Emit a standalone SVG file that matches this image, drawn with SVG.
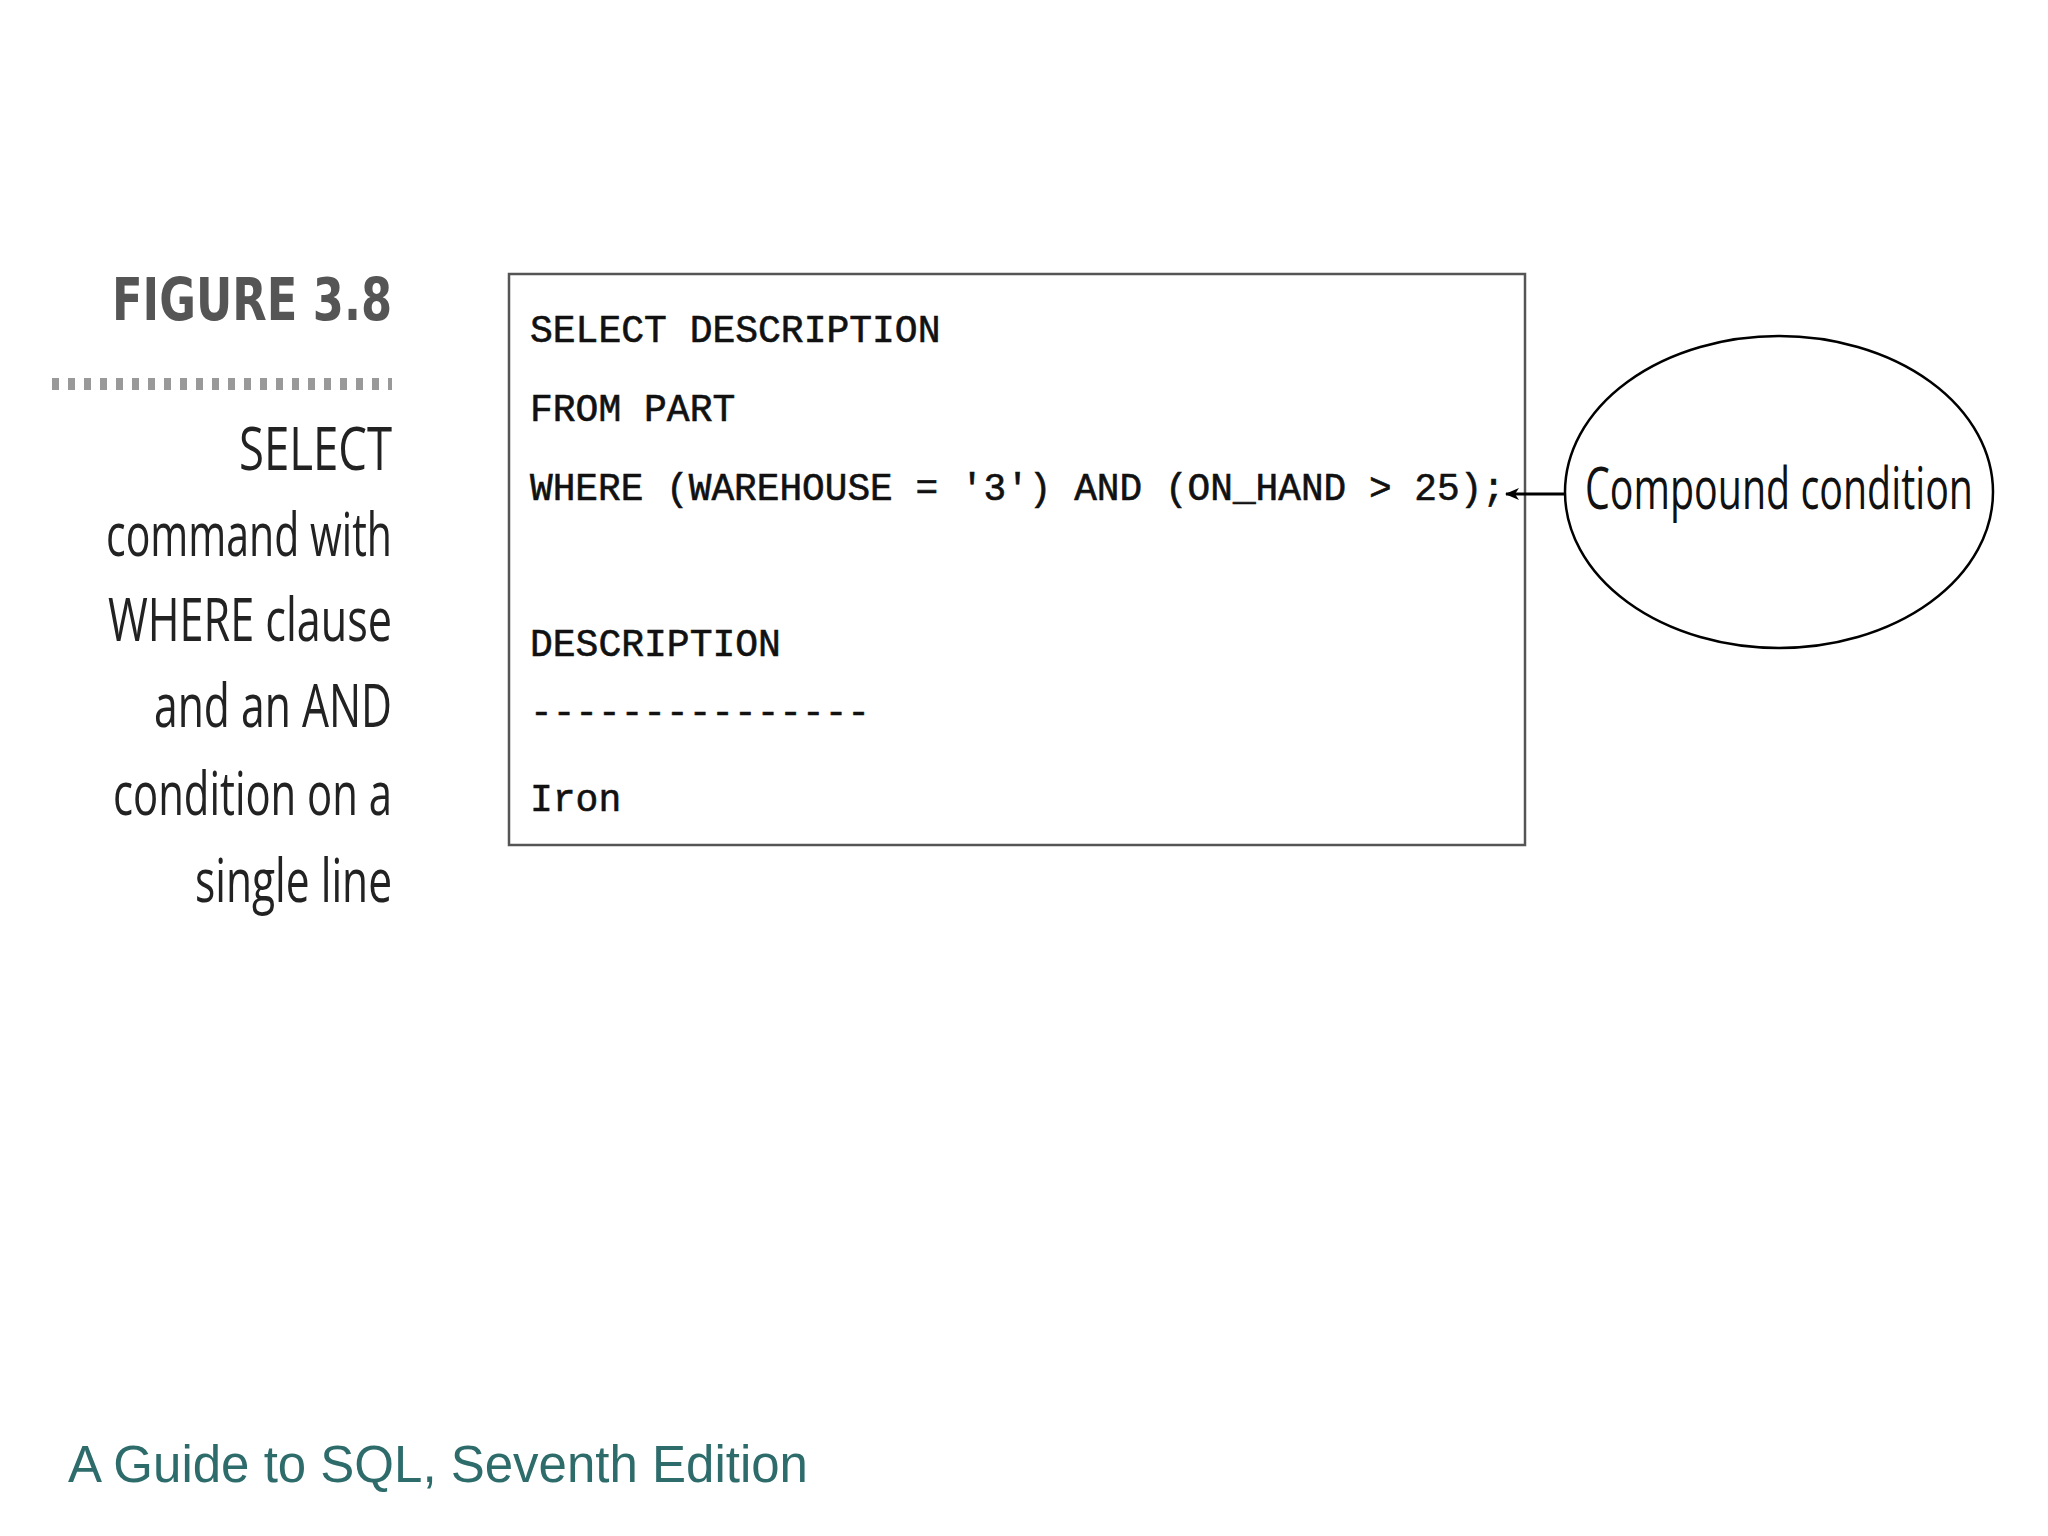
<svg xmlns="http://www.w3.org/2000/svg" width="2048" height="1536" viewBox="0 0 2048 1536">
<style>
.code{font-family:"Liberation Mono",monospace;font-size:38px;fill:#111;stroke:#111;stroke-width:0.6}
.cap{font-family:"Open Sans","DejaVu Sans",sans-serif;font-size:60px;fill:#222;text-anchor:end}
</style>
<defs><marker id="ah" markerWidth="14" markerHeight="12" refX="13" refY="6" orient="auto" markerUnits="userSpaceOnUse"><path d="M0,0 L14,6 L0,12 L4,6 z" fill="#000"/></marker></defs>
<rect width="2048" height="1536" fill="#fff"/>
<g id="caption">
<text x="392" y="320" font-family="'DejaVu Sans',sans-serif" font-weight="bold" font-size="58" fill="#555" text-anchor="end" textLength="280" lengthAdjust="spacingAndGlyphs">FIGURE 3.8</text>
<line x1="52" y1="384" x2="392" y2="384" stroke="#999" stroke-width="12" stroke-dasharray="7,9"/>
<text class="cap" x="392" y="470" textLength="153" lengthAdjust="spacingAndGlyphs">SELECT</text>
<text class="cap" x="392" y="556" textLength="286" lengthAdjust="spacingAndGlyphs">command with</text>
<text class="cap" x="392" y="641" textLength="284" lengthAdjust="spacingAndGlyphs">WHERE clause</text>
<text class="cap" x="392" y="727" textLength="238" lengthAdjust="spacingAndGlyphs">and an AND</text>
<text class="cap" x="392" y="815" textLength="279" lengthAdjust="spacingAndGlyphs">condition on a</text>
<text class="cap" x="392" y="902" textLength="197" lengthAdjust="spacingAndGlyphs">single line</text>
</g>
<g id="codebox">
<rect x="509" y="274" width="1016" height="571" fill="#fff" stroke="#555" stroke-width="2.5"/>
<text class="code" x="530" y="342">SELECT DESCRIPTION</text>
<text class="code" x="530" y="421">FROM PART</text>
<text class="code" x="530" y="500" textLength="975" lengthAdjust="spacingAndGlyphs">WHERE (WAREHOUSE = '3') AND (ON_HAND &gt; 25);</text>
<text class="code" x="530" y="656">DESCRIPTION</text>
<text class="code" x="530" y="724" textLength="340" lengthAdjust="spacingAndGlyphs">---------------</text>
<text class="code" x="530" y="811">Iron</text>
</g>
<g id="note">
<ellipse cx="1779" cy="492" rx="214" ry="156" fill="none" stroke="#000" stroke-width="2.5"/>
<text x="1585" y="509" font-family="'Open Sans',sans-serif" font-size="58" fill="#111" textLength="388" lengthAdjust="spacingAndGlyphs">Compound condition</text>
</g>
<g id="connectors">
<line x1="1565" y1="494" x2="1506" y2="494" stroke="#000" stroke-width="3" marker-end="url(#ah)"/>
</g>
<text x="68" y="1482" font-family="'Liberation Sans',Arial,sans-serif" font-size="51" fill="#2e6b6b">A Guide to SQL, Seventh Edition</text>
</svg>
